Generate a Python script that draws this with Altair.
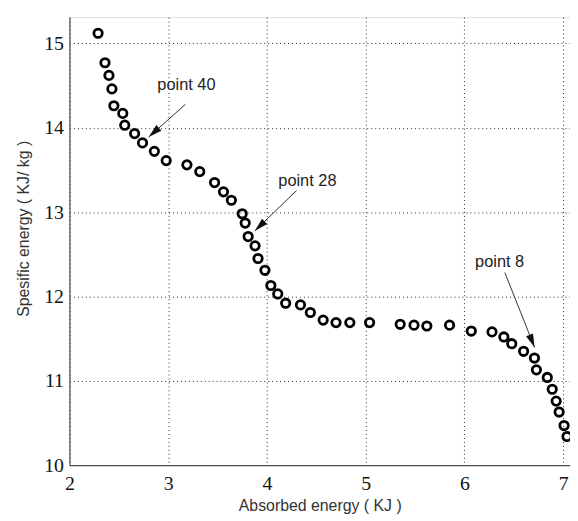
import altair as alt
import pandas as pd

# Measured points (absorbed energy KJ, specific energy KJ/kg)
absorbed = [2.29, 2.36, 2.40, 2.43, 2.45, 2.54, 2.56, 2.66, 2.74, 2.86, 2.98, 3.19,
            3.32, 3.47, 3.56, 3.64, 3.75, 3.78, 3.81, 3.88, 3.91, 3.98, 4.04, 4.11,
            4.19, 4.34, 4.44, 4.57, 4.70, 4.84, 5.04, 5.35, 5.49, 5.62, 5.85, 6.07,
            6.28, 6.40, 6.48, 6.60, 6.71, 6.73, 6.84, 6.89, 6.93, 6.96, 7.01, 7.04]
specific = [15.12, 14.77, 14.62, 14.46, 14.26, 14.17, 14.03, 13.93, 13.82, 13.72, 13.61, 13.56,
            13.48, 13.35, 13.24, 13.14, 12.98, 12.87, 12.71, 12.60, 12.45, 12.31, 12.13, 12.03,
            11.92, 11.90, 11.81, 11.72, 11.69, 11.69, 11.69, 11.67, 11.66, 11.65, 11.66, 11.59,
            11.58, 11.52, 11.44, 11.35, 11.27, 11.13, 11.04, 10.90, 10.76, 10.63, 10.47, 10.34]

# Annotations
ann_labels = ["point 40", "point 28", "point 8"]
ann_text_x = [3.185, 4.41, 6.357]
ann_text_y = [14.51, 13.37, 12.41]
arrow_x0 = [3.175, 4.30, 6.41]
arrow_y0 = [14.277, 13.255, 12.283]
arrow_x1 = [2.803, 3.877, 6.712]
arrow_y1 = [13.89, 12.777, 11.395]
arrow_angle = [228, 226, 158]

x_ticks = [2, 3, 4, 5, 6, 7]
y_ticks = [10, 11, 12, 13, 14, 15]

pts = pd.DataFrame({"x": absorbed, "y": specific})
ann = pd.DataFrame({"label": ann_labels, "tx": ann_text_x, "ty": ann_text_y,
                    "x0": arrow_x0, "y0": arrow_y0, "x1": arrow_x1, "y1": arrow_y1,
                    "ang": arrow_angle})

xscale = alt.Scale(domain=[2, 7.07], nice=False, zero=False)
yscale = alt.Scale(domain=[10, 15.31], nice=False, zero=False)

xaxis = alt.Axis(values=x_ticks, format="d", title="Absorbed energy ( KJ )",
                 labelPadding=9, titleY=41, titleBaseline="middle", grid=True)
yaxis = alt.Axis(values=y_ticks, format="d", title="Spesific energy ( KJ/ kg )",
                 labelPadding=6, titleX=-46, titleY=213, titleBaseline="middle", grid=True)

points = alt.Chart(pts).mark_point(shape="circle", filled=False, size=72,
                                   strokeWidth=2.8, color="#000", opacity=1).encode(
    x=alt.X("x:Q", scale=xscale, axis=xaxis),
    y=alt.Y("y:Q", scale=yscale, axis=yaxis),
)

lines = alt.Chart(ann).mark_rule(color="#333", strokeWidth=1).encode(
    x=alt.X("x0:Q", scale=xscale, axis=xaxis), y=alt.Y("y0:Q", scale=yscale, axis=yaxis),
    x2="x1:Q", y2="y1:Q",
)

heads = alt.Chart(ann).mark_point(shape="M0,0L-0.55,2L0.55,2Z", filled=True,
                                  color="#111", size=190, opacity=1).encode(
    x=alt.X("x1:Q", scale=xscale, axis=xaxis), y=alt.Y("y1:Q", scale=yscale, axis=yaxis),
    angle=alt.Angle("ang:Q", scale=None),
)

texts = alt.Chart(ann).mark_text(font="Liberation Sans", fontSize=16.5, color="#222",
                                 align="center", baseline="middle").encode(
    x=alt.X("tx:Q", scale=xscale, axis=xaxis), y=alt.Y("ty:Q", scale=yscale, axis=yaxis),
    text="label:N",
)

chart = alt.layer(points, lines, heads, texts).properties(
    width=505, height=452,
    autosize=alt.AutoSizeParams(type="none"),
    padding={"left": 62, "top": 7, "right": 0, "bottom": 52},
).configure_view(stroke="#555", strokeWidth=1.2).configure(background="white").configure_axis(
    grid=True, gridDash=[1, 3], gridColor="#000", gridOpacity=0.85, gridWidth=1,
    ticks=False, tickSize=0, labelFont="Liberation Serif", labelFontSize=20,
    labelFontWeight="normal", labelColor="#111", labelFlush=False,
    domainColor="#555", domainWidth=1.2,
    titleFont="Liberation Sans", titleFontSize=16, titleFontWeight="normal", titleColor="#333",
)

chart.save("out.html", embed_options={"renderer": "svg", "actions": False})
